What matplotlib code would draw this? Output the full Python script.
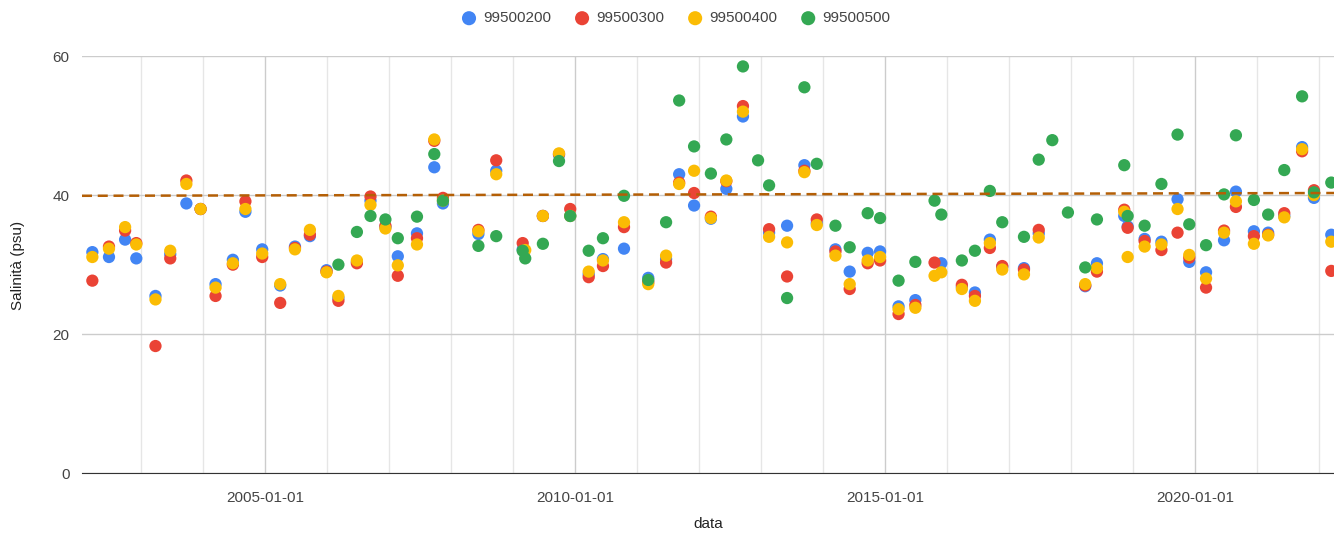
import numpy as np
import pandas as pd
import matplotlib
matplotlib.use("Agg")
from matplotlib import pyplot as plt
import matplotlib.dates as mdates

plt.rcParams['font.family'] = ['Liberation Sans', 'DejaVu Sans']

# date dei campionamenti
dates = ["2002-03-18", "2002-06-24", "2002-09-27", "2002-12-02", "2003-03-25", "2003-06-20",
         "2003-09-23", "2003-12-16", "2004-03-13", "2004-06-23", "2004-09-05", "2004-12-13",
         "2005-03-29", "2005-06-24", "2005-09-20", "2005-12-27", "2006-03-07", "2006-06-24",
         "2006-09-12", "2006-12-09", "2007-02-20", "2007-06-13", "2007-09-23", "2007-11-13",
         "2008-06-09", "2008-09-22", "2009-02-25", "2009-03-12", "2009-06-24", "2009-09-27",
         "2009-12-02", "2010-03-21", "2010-06-13", "2010-10-15", "2011-03-07", "2011-06-20",
         "2011-09-05", "2011-12-02", "2012-03-10", "2012-06-09", "2012-09-15", "2012-12-13",
         "2013-02-16", "2013-06-02", "2013-09-12", "2013-11-24", "2014-03-14", "2014-06-06",
         "2014-09-20", "2014-12-02", "2015-03-21", "2015-06-28", "2015-10-19", "2015-11-28",
         "2016-03-28", "2016-06-13", "2016-09-09", "2016-11-21", "2017-03-29", "2017-06-24",
         "2017-09-12", "2017-12-13", "2018-03-25", "2018-06-02", "2018-11-10", "2018-11-30",
         "2019-03-10", "2019-06-17", "2019-09-20", "2019-11-28", "2020-03-06", "2020-06-20",
         "2020-08-29", "2020-12-13", "2021-03-07", "2021-06-10", "2021-09-23", "2021-12-02",
         "2022-03-14"]

n = np.nan
s99500200 = [31.8, 31.1, 33.6, 30.9, 25.5, 31.5, 38.8, 38.0, 27.2, 30.7, 37.6, 32.2,
             27.0, 32.6, 34.1, 29.2, 25.2, 30.4, 39.2, 35.4, 31.2, 34.5, 44.0, 38.8,
             34.4, 43.5, 32.2, n, 37.0, 45.8, 37.0, 28.6, 30.8, 32.3, 28.1, 30.8,
             43.0, 38.5, 36.6, 40.9, 51.3, n, 34.6, 35.6, 44.3, 36.0, 32.2, 29.0,
             31.7, 31.9, 24.0, 24.9, n, 30.2, 26.8, 26.0, 33.6, 29.7, 29.5, 34.5,
             n, n, 26.9, 30.2, 37.0, 35.5, 33.7, 33.3, 39.4, 30.4, 28.9, 33.5,
             40.5, 34.8, 34.6, 37.0, 46.9, 39.6, 34.3]
s99500300 = [27.7, 32.6, 34.9, 33.1, 18.3, 30.9, 42.1, 38.0, 25.5, 30.0, 39.1, 31.1,
             24.5, 32.4, 34.3, 29.0, 24.8, 30.2, 39.8, 35.6, 28.4, 33.8, 47.8, 39.6,
             35.0, 45.0, 33.1, n, 37.0, 45.9, 38.0, 28.2, 29.8, 35.4, 27.5, 30.3,
             41.8, 40.3, 36.9, 42.0, 52.8, n, 35.1, 28.3, 43.5, 36.5, 31.9, 26.5,
             30.2, 30.6, 22.9, 24.2, 30.3, n, 27.1, 25.5, 32.4, 29.8, 29.3, 35.0,
             n, n, 27.0, 29.0, 37.9, 35.3, 33.4, 32.1, 34.6, 31.0, 26.7, 34.9,
             38.3, 34.1, 34.3, 37.4, 46.3, 40.7, 29.1]
s99500400 = [31.1, 32.3, 35.4, 32.9, 25.0, 32.0, 41.6, 38.0, 26.7, 30.2, 38.0, 31.6,
             27.2, 32.2, 35.0, 28.9, 25.5, 30.6, 38.6, 35.2, 29.9, 32.9, 48.0, 39.2,
             34.8, 43.0, n, 32.1, 37.0, 46.0, 37.0, 29.0, 30.6, 36.1, 27.2, 31.3,
             41.6, 43.5, 36.7, 42.1, 52.0, n, 34.0, 33.2, 43.3, 35.7, 31.3, 27.2,
             30.6, 31.1, 23.6, 23.8, 28.4, 28.9, 26.5, 24.8, 33.1, 29.3, 28.6, 33.9,
             n, n, 27.2, 29.5, 37.6, 31.1, 32.6, 32.9, 38.0, 31.4, 28.0, 34.6,
             39.1, 33.0, 34.2, 36.8, 46.6, 40.0, 33.3]
s99500500 = [n, n, n, n, n, n, n, n, n, n, n, n,
             n, n, n, n, 30.0, 34.7, 37.0, 36.5, 33.8, 36.9, 45.9, 39.2,
             32.7, 34.1, 32.0, 30.9, 33.0, 44.9, 37.0, 32.0, 33.8, 39.9, 27.8, 36.1,
             53.6, 47.0, 43.1, 48.0, 58.5, 45.0, 41.4, 25.2, 55.5, 44.5, 35.6, 32.5,
             37.4, 36.7, 27.7, 30.4, 39.2, 37.2, 30.6, 32.0, 40.6, 36.1, 34.0, 45.1,
             47.9, 37.5, 29.6, 36.5, 44.3, 37.0, 35.6, 41.6, 48.7, 35.8, 32.8, 40.1,
             48.6, 39.3, 37.2, 43.6, 54.2, 40.4, 41.8]

series_names = ["99500200", "99500300", "99500400", "99500500"]
colors = ["#4285f4", "#ea4335", "#fbbc04", "#34a853"]

# linea di riferimento (tendenza)
trend_dates = ["2002-01-16", "2022-03-30"]
trend_values = [39.9, 40.3]

x = pd.to_datetime(dates)
fig = plt.figure(figsize=(13.34, 5.36), dpi=100)
ax = fig.add_axes([82/1334, (536-473.3)/536, (1334-82)/1334, (473.3-56)/536])

for name, vals, c in zip(series_names, [s99500200, s99500300, s99500400, s99500500], colors):
    ax.scatter(x, vals, s=78, color=c, edgecolors="none", label=name, zorder=3)

ax.plot(pd.to_datetime(trend_dates), trend_values, color="#b45f06", lw=1.8,
        linestyle=(0, (4, 2.3)), zorder=4)

ax.set_xlim(pd.Timestamp(trend_dates[0]), pd.Timestamp(trend_dates[1]))
ax.set_ylim(0, 60)
ax.set_yticks([0, 20, 40, 60])
ax.xaxis.set_major_locator(mdates.YearLocator(5))
ax.xaxis.set_minor_locator(mdates.YearLocator(1))
ax.xaxis.set_major_formatter(mdates.DateFormatter("%Y-%m-%d"))

ax.grid(True, axis="y", color="#cccccc", lw=1)
ax.grid(True, axis="x", which="major", color="#cccccc", lw=1)
ax.grid(True, axis="x", which="minor", color="#e6e6e6", lw=1)
ax.set_axisbelow(True)
for sp in ["top", "right", "left"]:
    ax.spines[sp].set_visible(False)
ax.spines["bottom"].set_color("#333333")
ax.spines["bottom"].set_zorder(2)
ax.tick_params(axis="both", which="both", length=0, labelsize=11, labelcolor="#444444")
ax.tick_params(axis="x", pad=13)
ax.tick_params(axis="y", pad=9)

# titoli degli assi
fig.text(708/1334, 1 - 524/536, "data", fontsize=11, color="#222222", ha="center", va="center")
fig.text(18/1334, 1 - 265/536, "Salinità (psu)", fontsize=11, color="#222222",
         ha="center", va="center", rotation=90)

fig.legend(loc="center", bbox_to_anchor=(0.5065, 0.966), ncol=4, frameon=False,
           fontsize=11, labelcolor="#444444", handletextpad=0.4, columnspacing=1.55,
           markerscale=1.15, handlelength=1.0)

fig.savefig("out.png", dpi=100)
